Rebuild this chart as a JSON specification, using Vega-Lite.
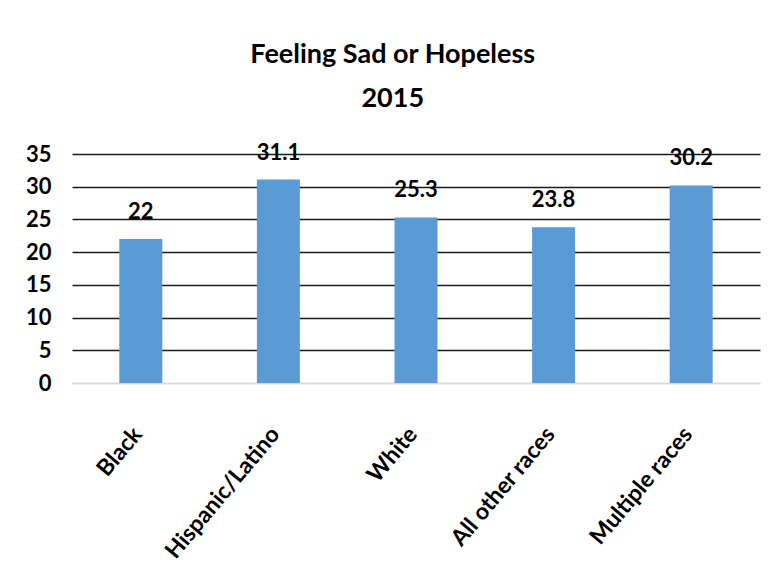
{
  "$schema": "https://vega.github.io/schema/vega-lite/v6.json",
  "width": 688,
  "height": 229,
  "autosize": "none",
  "padding": {"left": 72, "top": 154, "right": 19, "bottom": 199},
  "background": "#ffffff",
  "title": {
    "text": ["Feeling Sad or Hopeless", "2015"],
    "font": "Lato",
    "fontSize": 27,
    "fontWeight": "bold",
    "lineHeight": 44,
    "anchor": "middle",
    "frame": "bounds",
    "offset": 29,
    "color": "#000000"
  },
  "data": {
    "values": [
      {"race": "Black", "pct": 22},
      {"race": "Hispanic/Latino", "pct": 31.1},
      {"race": "White", "pct": 25.3},
      {"race": "All other races", "pct": 23.8},
      {"race": "Multiple races", "pct": 30.2}
    ]
  },
  "config": {"view": {"stroke": null}},
  "encoding": {
    "x": {
      "field": "race",
      "type": "nominal",
      "sort": null,
      "scale": {"paddingInner": 0.6875, "paddingOuter": 0.34375},
      "axis": {
        "title": null,
        "labelAngle": -50,
        "labelFont": "Lato",
        "labelFontWeight": "bold",
        "labelFontSize": 23,
        "labelColor": "#000000",
        "labelPadding": 47,
        "labelOffset": -3,
        "ticks": false,
        "domainColor": "#d9d9d9",
        "domainWidth": 1.5
      }
    },
    "y": {
      "field": "pct",
      "type": "quantitative",
      "scale": {"domain": [0, 35]},
      "axis": {
        "title": null,
        "values": [0, 5, 10, 15, 20, 25, 30, 35],
        "domain": false,
        "ticks": false,
        "grid": true,
        "gridColor": {"condition": {"test": "datum.value === 0", "value": "#d9d9d9"}, "value": "#1a1a1a"},
        "gridWidth": 1.3,
        "gridOpacity": 1,
        "labelFont": "Lato",
        "labelFontWeight": "bold",
        "labelFontSize": 22,
        "labelColor": "#000000",
        "labelPadding": 21
      }
    }
  },
  "layer": [
    {"mark": {"type": "bar", "color": "#5b9bd5"}},
    {
      "mark": {"type": "text", "baseline": "alphabetic", "dy": -20, "font": "Lato", "fontWeight": "bold", "fontSize": 22, "color": "#000000"},
      "encoding": {"text": {"field": "pct", "type": "quantitative"}}
    }
  ]
}
